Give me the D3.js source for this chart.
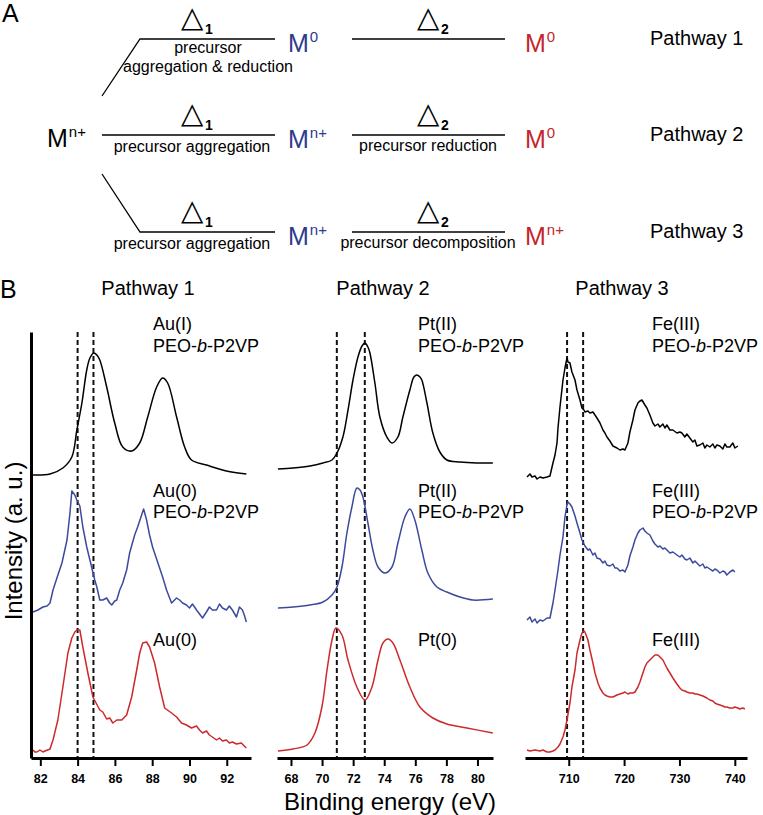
<!DOCTYPE html>
<html>
<head>
<meta charset="utf-8">
<script src="https://cdn.jsdelivr.net/npm/d3@7"></script>
<style>
  body { margin: 0; background: #fff; }
</style>
</head>
<body>
<div id="chart"></div>
<script>
// ---------- panel A text ----------
const pathwayNames = ['Pathway 1', 'Pathway 2', 'Pathway 3']
const firstStepText = [['precursor', 'aggregation & reduction'], ['precursor aggregation'], ['precursor aggregation']]
const secondStepText = ['', 'precursor reduction', 'precursor decomposition']
const intermediateState = ['0', 'n+', 'n+']
const finalState = ['0', '0', 'n+']

// ---------- panel B: XPS spectra, [binding energy (eV), intensity (a.u.)] ----------
const auRange = [81.5, 93.3]
const auTicks = [82, 84, 86, 88, 90, 92]
const auDashes = [84.0, 84.85]
const auPrecursor = [[81.61,283],[82.52,284],[83.21,290],[83.69,301],[83.96,328],[84.23,355],[84.49,388],[84.66,400],[84.87,405],[85.03,403],[85.19,398],[85.56,371],[85.99,335],[86.42,311],[86.90,307],[87.33,315],[87.76,341],[88.24,371],[88.56,380],[88.83,375],[89.31,341],[89.74,311],[90.11,298],[90.91,293],[91.98,287],[93.05,284]]
const auInPolymer = [[81.61,146],[81.87,148],[82.14,151],[82.36,152],[82.52,155],[82.68,168],[82.89,180],[83.16,195],[83.43,218],[83.59,245],[83.69,267],[83.85,263],[83.96,258],[84.12,252],[84.28,231],[84.49,211],[84.66,198],[84.92,178],[85.03,171],[85.19,158],[85.35,158],[85.56,160],[85.72,155],[85.83,153],[85.99,157],[86.10,158],[86.26,168],[86.42,175],[86.63,188],[86.79,205],[87.06,223],[87.22,231],[87.38,240],[87.54,249],[87.70,238],[87.86,223],[88.02,211],[88.29,196],[88.56,181],[88.77,168],[89.04,155],[89.31,160],[89.47,158],[89.63,155],[89.84,153],[90.00,150],[90.16,154],[90.38,148],[90.54,144],[90.70,140],[90.91,146],[91.07,151],[91.23,148],[91.45,148],[91.61,154],[91.77,150],[91.98,148],[92.14,152],[92.30,148],[92.52,141],[92.68,151],[92.84,148],[92.94,143],[93.05,136]]
const auMetal = [[81.61,8],[81.71,6],[81.82,6],[81.98,8],[82.14,6],[82.25,7],[82.52,9],[82.68,18],[82.94,38],[83.21,71],[83.48,105],[83.69,120],[83.85,126],[83.96,128],[84.12,128],[84.28,111],[84.55,85],[84.82,61],[85.19,48],[85.35,46],[85.56,39],[85.72,40],[85.89,35],[86.10,38],[86.37,38],[86.63,43],[86.90,61],[87.17,88],[87.33,105],[87.49,115],[87.70,116],[87.86,111],[88.13,95],[88.40,71],[88.67,50],[89.04,45],[89.31,41],[89.57,35],[89.84,33],[90.11,30],[90.38,32],[90.54,28],[90.70,25],[90.91,27],[91.07,23],[91.23,21],[91.45,18],[91.61,20],[91.77,17],[91.98,18],[92.14,15],[92.30,16],[92.52,14],[92.78,15],[92.94,12],[93.05,10]]

const ptRange = [67.1, 81.0]
const ptTicks = [68, 70, 72, 74, 76, 78, 80]
const ptDashes = [70.95, 72.75]
const ptPrecursor = [[67.16,289],[68.13,290],[69.22,292],[70.06,295],[70.64,298],[70.96,305],[71.34,321],[71.67,348],[71.99,378],[72.31,401],[72.57,412],[72.76,415],[72.95,411],[73.08,405],[73.40,375],[73.72,341],[74.17,321],[74.50,315],[74.88,321],[75.20,341],[75.65,368],[75.91,381],[76.10,383],[76.30,381],[76.42,378],[76.75,355],[77.13,325],[77.58,306],[78.03,298],[78.87,296],[79.96,295],[80.99,295]]
const ptInPolymer = [[67.16,150],[68.13,151],[69.22,153],[70.06,156],[70.64,163],[70.96,171],[71.28,191],[71.60,225],[71.92,251],[72.24,270],[72.44,268],[72.63,261],[72.95,235],[73.27,208],[73.60,191],[74.05,185],[74.50,191],[74.88,215],[75.33,241],[75.65,249],[75.97,238],[76.42,208],[76.81,185],[77.39,171],[78.03,166],[78.87,161],[79.70,158],[80.99,159]]
const ptMetal = [[67.16,7],[68.13,9],[69.03,13],[69.54,25],[69.99,51],[70.32,88],[70.64,118],[70.89,130],[71.28,123],[71.67,98],[72.24,71],[72.76,58],[73.21,71],[73.60,98],[73.92,115],[74.24,119],[74.56,115],[75.01,98],[75.65,71],[76.30,51],[77.13,40],[78.03,34],[79.32,30],[80.99,25]]

const feRange = [702.1, 742.2]
const feTicks = [710, 720, 730, 740]
const feDashes = [709.7, 712.6]
const fePrecursor = [[702.46,281],[703.0,284],[703.36,281],[703.91,282],[704.27,279],[704.81,281],[705.35,280],[706.07,281],[706.61,282],[707.15,295],[707.52,303],[707.88,315],[708.06,330],[708.42,351],[708.96,378],[709.32,390],[709.68,400],[709.86,396],[710.22,395],[710.58,386],[711.13,378],[711.49,368],[712.03,358],[712.39,350],[712.75,348],[712.93,346],[713.47,347],[713.83,345],[714.37,346],[714.74,343],[715.1,340],[715.64,335],[716.18,328],[716.54,325],[716.9,321],[717.44,317],[717.98,312],[718.35,311],[718.71,310],[719.25,308],[719.79,309],[720.15,308],[720.69,315],[721.05,326],[721.59,338],[721.96,348],[722.5,355],[722.86,357],[723.22,358],[723.76,353],[724.12,350],[724.66,343],[725.2,335],[725.57,332],[726.11,334],[726.47,331],[727.01,334],[727.37,330],[727.73,333],[728.27,328],[728.81,328],[729.54,325],[730.08,326],[730.44,325],[730.98,321],[731.34,324],[731.88,320],[732.42,316],[732.79,318],[733.15,312],[733.69,313],[734.23,315],[734.59,310],[734.95,313],[735.49,311],[736.04,314],[736.4,310],[736.76,313],[737.3,312],[737.84,309],[738.2,314],[738.56,311],[739.1,311],[739.65,315],[740.01,310],[740.55,312]]
const feInPolymer = [[702.46,138],[703.0,141],[703.36,136],[703.91,139],[704.27,135],[704.81,138],[705.35,137],[706.07,140],[706.61,140],[707.15,155],[707.52,168],[708.06,188],[708.42,203],[708.96,221],[709.32,241],[709.68,253],[709.86,256],[710.22,254],[710.58,251],[711.13,242],[711.49,235],[712.03,225],[712.39,218],[712.93,212],[713.47,208],[713.83,209],[714.37,203],[714.74,205],[715.1,200],[715.64,199],[716.18,195],[716.54,197],[716.9,193],[717.44,192],[717.98,194],[718.35,190],[718.71,190],[719.25,187],[719.79,188],[720.15,186],[720.69,193],[721.05,202],[721.59,211],[721.96,218],[722.5,225],[722.86,228],[723.4,230],[723.76,227],[724.12,225],[724.66,223],[725.2,217],[725.57,214],[726.11,211],[726.47,212],[727.01,209],[727.37,210],[727.73,208],[728.27,205],[728.81,206],[729.54,203],[730.08,201],[730.44,203],[730.98,199],[731.34,198],[731.88,200],[732.42,195],[732.79,197],[733.15,195],[733.69,192],[734.23,194],[734.59,190],[734.95,191],[735.49,189],[736.04,187],[736.4,189],[736.76,188],[737.3,185],[737.84,187],[738.2,186],[738.56,183],[739.1,186],[739.65,188],[740.01,186]]
const feOxide = [[702.46,8],[703.0,7],[703.91,8],[704.81,7],[705.35,8],[706.07,6],[706.61,6],[707.15,7],[707.52,8],[708.06,11],[708.42,14],[708.96,21],[709.32,28],[709.68,38],[710.22,55],[710.58,71],[711.13,88],[711.49,105],[712.03,118],[712.39,125],[712.75,127],[712.93,126],[713.47,118],[713.83,108],[714.37,95],[714.74,85],[715.28,75],[715.64,70],[716.18,65],[716.54,63],[716.9,62],[717.44,61],[717.98,61],[718.35,62],[718.71,63],[719.25,64],[719.79,65],[720.15,66],[720.69,64],[721.05,65],[721.59,65],[721.96,66],[722.5,71],[722.86,76],[723.4,85],[723.76,91],[724.12,95],[724.66,98],[725.2,101],[725.57,103],[726.11,103],[726.47,101],[727.01,98],[727.37,94],[727.73,90],[728.27,85],[728.81,80],[729.54,74],[730.08,70],[730.44,68],[730.98,67],[731.34,66],[731.88,65],[732.42,65],[732.79,64],[733.15,64],[733.69,63],[734.23,62],[734.59,61],[734.95,60],[735.49,58],[736.04,57],[736.4,55],[736.76,54],[737.3,53],[737.84,52],[738.2,51],[738.56,51],[739.1,50],[739.65,50],[740.01,51],[740.55,50],[740.91,49],[741.45,50],[741.81,49]]

const auLabels = ['Au(I)', 'Au(0)', 'Au(0)']
const ptLabels = ['Pt(II)', 'Pt(II)', 'Pt(0)']
const feLabels = ['Fe(III)', 'Fe(III)', 'Fe(III)']

// ---------- drawing ----------
const FONT = '"Liberation Sans", Arial, Helvetica, sans-serif'
const BLACK = '#000'
const BLUE = '#3c4a9e'
const RED = '#cc2a2c'
const BLUE_TEXT = '#2f3a8c'
const RED_TEXT = '#c4262c'

const svg = d3.select('#chart').append('svg')
  .attr('width', 763)
  .attr('height', 815)
  .style('font-family', FONT)

// ---- panel A ----
const rowY = [39, 135, 232]
const A = svg.append('g')

A.append('text').attr('x', 2).attr('y', 22).attr('font-size', 25).text('A')

A.append('text').attr('x', 47).attr('y', 147).attr('font-size', 25).text('M')
  .append('tspan').attr('font-size', 15).attr('dy', -10).attr('dx', 1).text('n+')

const branch = [[[102, 96], [140, rowY[0]], [275, rowY[0]]],
                [[102, rowY[1]], [275, rowY[1]]],
                [[102, 174], [140, rowY[2]], [275, rowY[2]]]]
A.selectAll('path.branch').data(branch).enter().append('path')
  .attr('class', 'branch')
  .attr('d', d3.line())
  .attr('fill', 'none').attr('stroke', BLACK).attr('stroke-width', 1.3)

A.selectAll('line.step2').data(rowY).enter().append('line')
  .attr('class', 'step2')
  .attr('x1', 352).attr('x2', 505).attr('y1', d => d).attr('y2', d => d)
  .attr('stroke', BLACK).attr('stroke-width', 1.3)

const deltaGroups = A.selectAll('g.delta').data(rowY.flatMap(r => [[181, r, '1'], [417, r, '2']]))
  .enter().append('g').attr('class', 'delta')
deltaGroups.append('text')
  .attr('x', d => d[0]).attr('y', d => d[1] - 12)
  .attr('font-family', 'DejaVu Sans').attr('font-size', 29)
  .text('\u25B3')
deltaGroups.append('text')
  .attr('x', d => d[0] + 24).attr('y', d => d[1] - 5)
  .attr('font-size', 14).attr('font-weight', 'bold')
  .text(d => d[2])

firstStepText.forEach((lines, i) => {
  const cx = i === 0 ? 208 : 192
  lines.forEach((s, j) => {
    A.append('text').attr('x', cx).attr('y', rowY[i] + (i === 0 ? 14 : 17) + j * 19)
      .attr('text-anchor', 'middle').attr('font-size', 16).text(s)
  })
})
secondStepText.forEach((s, i) => {
  A.append('text').attr('x', 428).attr('y', rowY[i] + 16)
    .attr('text-anchor', 'middle').attr('font-size', 16).text(s)
})

function mState(x, y, sup, color) {
  A.append('text').attr('x', x).attr('y', y).attr('font-size', 25).attr('fill', color).text('M')
    .append('tspan').attr('font-size', 15).attr('dy', -10).attr('dx', 1).text(sup)
}
intermediateState.forEach((s, i) => mState(288, rowY[i] + 13, s, BLUE_TEXT))
finalState.forEach((s, i) => mState(525, rowY[i] + 13, s, RED_TEXT))

pathwayNames.forEach((s, i) => {
  A.append('text').attr('x', 650).attr('y', rowY[i] + 6).attr('font-size', 20).text(s)
})

// ---- panel B ----
svg.append('text').attr('x', 0).attr('y', 298).attr('font-size', 25).text('B')

const y = d3.scaleLinear().domain([0, 426]).range([758, 332])

const panels = [
  { range: auRange, px: [31, 251], ticks: auTicks, dashes: auDashes, labels: auLabels, labelX: 153, title: 'Pathway 1', titleX: 148,
    series: [[auPrecursor, BLACK, true], [auInPolymer, BLUE, false], [auMetal, RED, false]] },
  { range: ptRange, px: [277, 493], ticks: ptTicks, dashes: ptDashes, labels: ptLabels, labelX: 418, title: 'Pathway 2', titleX: 383,
    series: [[ptPrecursor, BLACK, true], [ptInPolymer, BLUE, true], [ptMetal, RED, true]] },
  { range: feRange, px: [525, 747], ticks: feTicks, dashes: feDashes, labels: feLabels, labelX: 652, title: 'Pathway 3', titleX: 622,
    series: [[fePrecursor, BLACK, false], [feInPolymer, BLUE, false], [feOxide, RED, false]] }
]

const labelRows = [[330, 352], [497, 518], [646]]

panels.forEach(p => {
  const x = d3.scaleLinear().domain(p.range).range(p.px)
  const g = svg.append('g')

  g.append('text').attr('x', p.titleX).attr('y', 295).attr('text-anchor', 'middle')
    .attr('font-size', 20).text(p.title)

  // dashed reference lines
  g.selectAll('line.dash').data(p.dashes).enter().append('line')
    .attr('class', 'dash')
    .attr('x1', d => x(d)).attr('x2', d => x(d))
    .attr('y1', y(426)).attr('y2', y(0))
    .attr('stroke', '#111').attr('stroke-width', 2).attr('stroke-dasharray', '5,3')

  p.series.forEach(([data, color, smooth]) => {
    g.append('path').datum(data)
      .attr('fill', 'none').attr('stroke', color).attr('stroke-width', 1.5)
      .attr('stroke-linejoin', 'round')
      .attr('d', d3.line().x(d => x(d[0])).y(d => y(d[1]))
        .curve(smooth ? d3.curveCatmullRom : d3.curveLinear))
  })

  p.labels.forEach((s, i) => {
    g.append('text').attr('x', p.labelX).attr('y', labelRows[i][0]).attr('font-size', 18).text(s)
    if (labelRows[i].length > 1) {
      const t = g.append('text').attr('x', p.labelX).attr('y', labelRows[i][1]).attr('font-size', 18)
      t.append('tspan').text('PEO-')
      t.append('tspan').attr('font-style', 'italic').text('b')
      t.append('tspan').text('-P2VP')
    }
  })

  const axis = g.append('g')
    .attr('transform', `translate(0,${y(0)})`)
    .call(d3.axisBottom(x).tickValues(p.ticks).tickSize(8).tickSizeOuter(0).tickPadding(8))
  axis.select('.domain').attr('stroke', BLACK).attr('stroke-width', 3)
  axis.selectAll('.tick line').attr('stroke', BLACK).attr('stroke-width', 2)
  axis.selectAll('.tick text')
    .attr('font-family', FONT).attr('font-size', 12.5).attr('font-weight', 'bold').attr('fill', BLACK)
})

// y axis (no ticks)
const yAxis = svg.append('g')
  .attr('transform', 'translate(31,0)')
  .call(d3.axisLeft(y).tickValues([]).tickSizeOuter(0))
yAxis.select('.domain').attr('stroke', BLACK).attr('stroke-width', 3)

svg.append('text')
  .attr('transform', 'translate(22,541) rotate(-90)')
  .attr('text-anchor', 'middle').attr('font-size', 24)
  .text('Intensity (a. u.)')

svg.append('text')
  .attr('x', 390).attr('y', 810)
  .attr('text-anchor', 'middle').attr('font-size', 24)
  .text('Binding energy (eV)')
</script>
</body>
</html>
